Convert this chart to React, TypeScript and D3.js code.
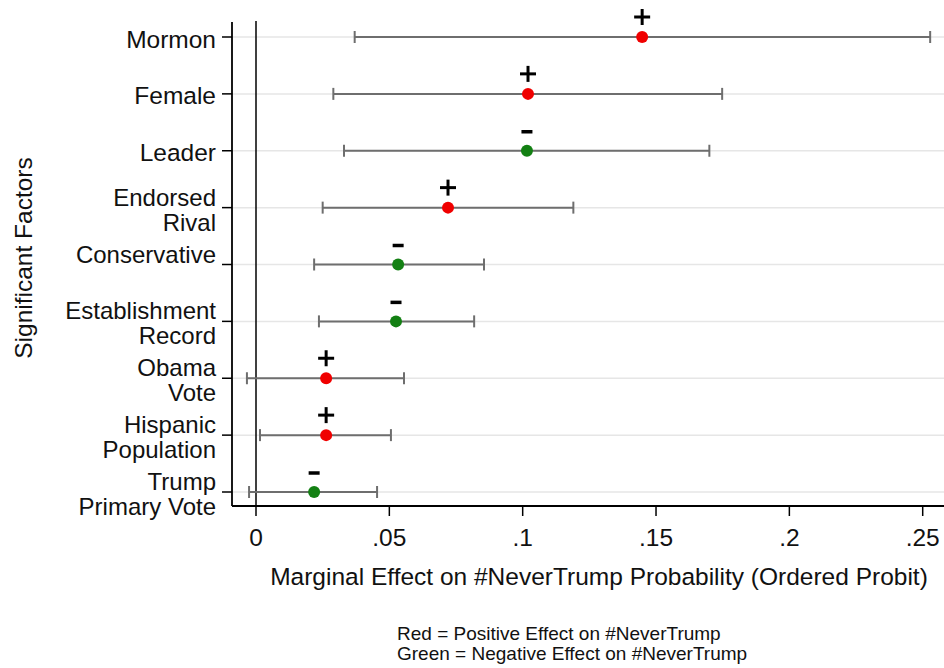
import React from "react";
import * as d3 from "d3";

const factors: string[][] = [
  ["Mormon"],
  ["Female"],
  ["Leader"],
  ["Endorsed", "Rival"],
  ["Conservative", ""],
  ["Establishment", "Record"],
  ["Obama", "Vote"],
  ["Hispanic", "Population"],
  ["Trump", "Primary Vote"],
];
const estimates = [0.1448, 0.102, 0.1016, 0.072, 0.0533, 0.0525, 0.0263, 0.0263, 0.0218];
const lower = [0.037, 0.029, 0.033, 0.025, 0.0218, 0.0236, -0.0034, 0.0015, -0.0026];
const upper = [0.2528, 0.1748, 0.17, 0.119, 0.0855, 0.0818, 0.0555, 0.0506, 0.0454];
const signs = ["+", "+", "-", "+", "-", "-", "+", "+", "-"];
const xTicks = [0, 0.05, 0.1, 0.15, 0.2, 0.25];
const xTickLabels = ["0", ".05", ".1", ".15", ".2", ".25"];
const xTitle = "Marginal Effect on #NeverTrump Probability (Ordered Probit)";
const yTitle = "Significant Factors";
const notes = ["Red = Positive Effect on #NeverTrump", "Green = Negative Effect on #NeverTrump"];

const W = 944;
const H = 668;
const FONT = "'Liberation Sans', Arial, sans-serif";

export default function App() {
  const left = 232;
  const right = W;
  const top = 22;
  const bottom = 506;
  const x = d3.scaleLinear().domain([0, 0.25]).range([256, 922.7]);
  const keys = factors.map((f) => f.join(" "));
  const y = d3.scalePoint<string>().domain(keys).range([37, 492]);
  const RED = "#f00000";
  const GREEN = "#138013";
  const FS = 24.5;
  return (
    <svg
      width={W}
      height={H}
      style={{ position: "absolute", left: 0, top: 0, background: "#fff" }}
      fontFamily={FONT}
    >
      <rect x={0} y={0} width={W} height={H} fill="#fff" />
      {keys.map((k) => (
        <line key={"g" + k} x1={left} x2={right} y1={y(k)} y2={y(k)} stroke="#e6e6e6" strokeWidth={1.5} />
      ))}
      <line x1={x(0)} x2={x(0)} y1={21} y2={bottom} stroke="#000" strokeWidth={1.5} />
      <line x1={left} x2={left} y1={top} y2={bottom} stroke="#000" strokeWidth={1.8} />
      <line x1={left} x2={right} y1={bottom} y2={bottom} stroke="#000" strokeWidth={1.8} />
      {factors.map((f, i) => {
        const yy = y(keys[i])!;
        const n = f.length;
        return (
          <g key={"y" + i}>
            <line x1={left - 10} x2={left} y1={yy} y2={yy} stroke="#000" strokeWidth={1.5} />
            {f.map((line, j) => (
              <text
                key={j}
                x={216}
                y={yy + 2 + (j - (n - 1) / 2) * 25}
                textAnchor="end"
                dominantBaseline="central"
                fontSize={n > 1 ? 24 : FS}
                fill="#111"
              >
                {line}
              </text>
            ))}
          </g>
        );
      })}
      {xTicks.map((t, i) => (
        <g key={"x" + i}>
          <line x1={x(t)} x2={x(t)} y1={bottom} y2={bottom + 10} stroke="#000" strokeWidth={1.5} />
          <text x={x(t)} y={546} textAnchor="middle" fontSize={FS} fill="#111">
            {xTickLabels[i]}
          </text>
        </g>
      ))}
      {keys.map((k, i) => {
        const yy = y(k)!;
        return (
          <g key={"ci" + i} stroke="#6e6e6e" strokeWidth={2}>
            <line x1={x(lower[i])} x2={x(upper[i])} y1={yy} y2={yy} />
            <line x1={x(lower[i])} x2={x(lower[i])} y1={yy - 6} y2={yy + 6} />
            <line x1={x(upper[i])} x2={x(upper[i])} y1={yy - 6} y2={yy + 6} />
          </g>
        );
      })}
      {keys.map((k, i) => (
        <circle
          key={"p" + i}
          cx={x(estimates[i])}
          cy={y(k)}
          r={6}
          fill={signs[i] === "+" ? RED : GREEN}
        />
      ))}
      {keys.map((k, i) => {
        const cx = x(estimates[i]);
        const cy = y(k)! - 20;
        return signs[i] === "+" ? (
          <g key={"s" + i} stroke="#000" strokeWidth={3}>
            <line x1={cx - 8} x2={cx + 8} y1={cy} y2={cy} />
            <line x1={cx} x2={cx} y1={cy - 8} y2={cy + 8} />
          </g>
        ) : (
          <line key={"s" + i} x1={cx - 5.5} x2={cx + 5.5} y1={cy + 1} y2={cy + 1} stroke="#000" strokeWidth={3.5} />
        );
      })}
      <text x={599} y={585} textAnchor="middle" fontSize={FS} fill="#111">
        {xTitle}
      </text>
      <text
        transform={`translate(32,258) rotate(-90)`}
        textAnchor="middle"
        fontSize={FS}
        fill="#111"
      >
        {yTitle}
      </text>
      {notes.map((n, i) => (
        <text key={"n" + i} x={397} y={640 + i * 20} fontSize={19} fill="#111">
          {n}
        </text>
      ))}
    </svg>
  );
}
